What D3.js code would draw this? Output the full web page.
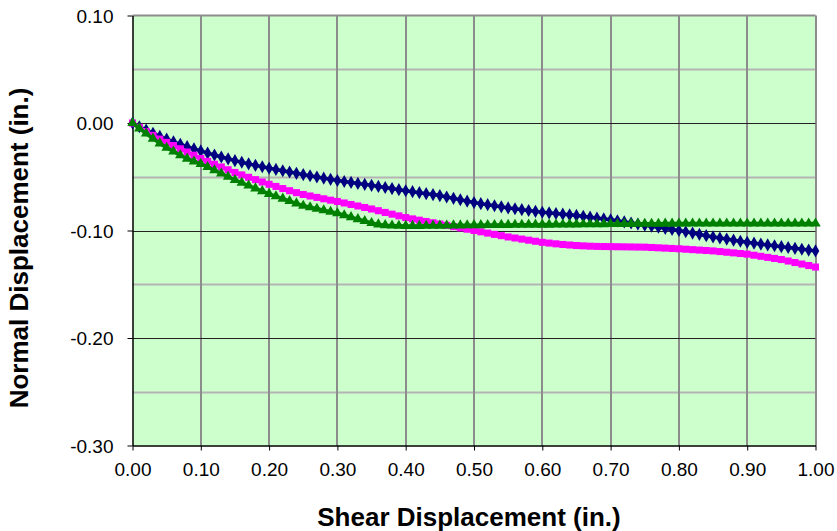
<!DOCTYPE html>
<html>
<head>
<meta charset="utf-8">
<script src="https://cdn.jsdelivr.net/npm/d3@7"></script>
<style>
  html, body { margin: 0; padding: 0; background: #ffffff; }
  svg { display: block; font-family: "Liberation Sans", Arial, sans-serif; }
</style>
</head>
<body>
<svg id="chart" width="837" height="531"></svg>
<script>
// ---- data ----
const shearX = d3.range(0, 101).map(i => +(i / 100).toFixed(2));

const series1 = [ // navy diamonds
  0, -0.0035, -0.0065, -0.0095, -0.0125, -0.015, -0.0175, -0.0198, -0.022, -0.024,
  -0.026, -0.028, -0.0298, -0.0316, -0.0333, -0.035, -0.0365, -0.038, -0.0394, -0.0407,
  -0.042, -0.0432, -0.0444, -0.0456, -0.0468, -0.048, -0.0491, -0.0502, -0.0513, -0.0524,
  -0.0535, -0.0544, -0.0553, -0.0562, -0.0571, -0.058, -0.059, -0.060, -0.061, -0.062,
  -0.063, -0.0639, -0.0648, -0.0657, -0.0666, -0.0675, -0.0688, -0.0701, -0.0714, -0.0727,
  -0.074, -0.075, -0.076, -0.077, -0.078, -0.079, -0.0798, -0.0806, -0.0814, -0.0822,
  -0.083, -0.0836, -0.0842, -0.0848, -0.0854, -0.086, -0.0868, -0.0876, -0.0884, -0.0892,
  -0.090, -0.091, -0.092, -0.093, -0.094, -0.095, -0.096, -0.097, -0.098, -0.099,
  -0.100, -0.1012, -0.1024, -0.1036, -0.1048, -0.106, -0.107, -0.108, -0.109, -0.110,
  -0.111, -0.1118, -0.1126, -0.1134, -0.1142, -0.115, -0.1158, -0.1166, -0.1174, -0.1182,
  -0.119
];

const series2 = [ // magenta squares
  0, -0.004, -0.008, -0.0115, -0.015, -0.018, -0.021, -0.024, -0.027, -0.030,
  -0.033, -0.0357, -0.0384, -0.0409, -0.0435, -0.046, -0.0483, -0.0505, -0.0527, -0.0549,
  -0.057, -0.059, -0.061, -0.063, -0.0648, -0.0665, -0.0679, -0.0692, -0.0705, -0.0718,
  -0.073, -0.0744, -0.0758, -0.0772, -0.0786, -0.080, -0.0816, -0.0832, -0.0848, -0.0864,
  -0.088, -0.0892, -0.0904, -0.0916, -0.0928, -0.094, -0.0952, -0.0964, -0.0976, -0.0988,
  -0.100, -0.1012, -0.1024, -0.1036, -0.1048, -0.106, -0.107, -0.108, -0.109, -0.110,
  -0.111, -0.1117, -0.1124, -0.113, -0.1135, -0.114, -0.1143, -0.1146, -0.1148, -0.1149,
  -0.115, -0.1151, -0.1152, -0.1153, -0.1154, -0.1155, -0.1158, -0.1161, -0.1164, -0.1167,
  -0.117, -0.1174, -0.1178, -0.1182, -0.1186, -0.119, -0.1196, -0.1202, -0.1208, -0.1214,
  -0.122, -0.123, -0.124, -0.125, -0.126, -0.127, -0.1284, -0.1298, -0.1312, -0.1326,
  -0.134
];

const series3 = [ // green triangles
  0, -0.005, -0.0098, -0.0145, -0.019, -0.023, -0.0265, -0.030, -0.0332, -0.0358,
  -0.038, -0.041, -0.044, -0.047, -0.050, -0.053, -0.0556, -0.0582, -0.0608, -0.0634,
  -0.066, -0.0682, -0.0704, -0.0726, -0.0748, -0.077, -0.0784, -0.0798, -0.0812, -0.0826,
  -0.084, -0.0858, -0.0876, -0.0894, -0.0912, -0.093, -0.0943, -0.095, -0.0954, -0.0956,
  -0.0957, -0.0957, -0.0957, -0.0956, -0.0955, -0.0955, -0.0954, -0.0953, -0.0952, -0.0951,
  -0.095, -0.095, -0.0949, -0.0949, -0.0948, -0.0948, -0.0947, -0.0947, -0.0946, -0.0946,
  -0.0945, -0.0945, -0.0944, -0.0944, -0.0943, -0.0943, -0.0942, -0.0942, -0.0941, -0.0941,
  -0.094, -0.094, -0.0939, -0.0939, -0.0938, -0.0938, -0.0937, -0.0937, -0.0936, -0.0936,
  -0.0935, -0.0935, -0.0935, -0.0935, -0.0935, -0.0935, -0.0935, -0.0935, -0.0935, -0.0935,
  -0.0935, -0.0935, -0.0935, -0.0935, -0.0935, -0.0935, -0.0935, -0.0935, -0.0935, -0.0935,
  -0.0935
];

const xTicks = [0, 0.1, 0.2, 0.3, 0.4, 0.5, 0.6, 0.7, 0.8, 0.9, 1.0];
const yTicks = [0.10, 0.00, -0.10, -0.20, -0.30];
const yMinorTicks = [0.05, -0.05, -0.15, -0.25];
const xTitle = "Shear Displacement (in.)";
const yTitle = "Normal Displacement (in.)";

// ---- layout ----
const svg = d3.select("#chart");
const plot = { left: 132.5, right: 815.5, top: 15.5, bottom: 445.5 };

const x = d3.scaleLinear().domain([0, 1]).range([plot.left, plot.right]);
const y = d3.scaleLinear().domain([-0.30, 0.10]).range([plot.bottom, plot.top]);

// background
svg.append("rect")
  .attr("x", plot.left).attr("y", plot.top)
  .attr("width", plot.right - plot.left).attr("height", plot.bottom - plot.top)
  .attr("fill", "#ccffcc");

// minor horizontal gridlines
svg.append("g").selectAll("line").data(yMinorTicks).join("line")
  .attr("x1", plot.left).attr("x2", plot.right)
  .attr("y1", d => Math.round(y(d)) + 0.5).attr("y2", d => Math.round(y(d)) + 0.5)
  .attr("stroke", "#b4b4b4").attr("stroke-width", 2);

// vertical gridlines
svg.append("g").selectAll("line").data(xTicks.slice(1)).join("line")
  .attr("x1", d => Math.round(x(d))).attr("x2", d => Math.round(x(d)))
  .attr("y1", plot.top).attr("y2", plot.bottom)
  .attr("stroke", "#8c8c8c").attr("stroke-width", 2);

// major horizontal gridlines
svg.append("g").selectAll("line").data(yTicks.slice(1, 4)).join("line")
  .attr("x1", plot.left).attr("x2", plot.right)
  .attr("y1", d => Math.round(y(d)) + 0.5).attr("y2", d => Math.round(y(d)) + 0.5)
  .attr("stroke", "#222").attr("stroke-width", 1);

// top border gray
svg.append("line")
  .attr("x1", plot.left).attr("x2", plot.right)
  .attr("y1", plot.top).attr("y2", plot.top)
  .attr("stroke", "#8c8c8c").attr("stroke-width", 2);

// axes
const xAxis = d3.axisBottom(x).tickValues(xTicks).tickSize(5).tickSizeOuter(0)
  .tickFormat(d3.format(".2f"));
const yAxis = d3.axisLeft(y).tickValues(yTicks).tickSize(5).tickSizeOuter(0)
  .tickFormat(d => d3.format(".2f")(d).replace("−", "-"));

const gx = svg.append("g").attr("transform", `translate(0,${plot.bottom})`).call(xAxis);
const gy = svg.append("g").attr("transform", `translate(${plot.left},0)`).call(yAxis);

[gx, gy].forEach(g => {
  g.attr("font-size", null).attr("font-family", null);
  g.select(".domain").attr("stroke", "#000").attr("stroke-width", 1.5);
  g.selectAll(".tick line").attr("stroke", "#000");
  g.selectAll(".tick text")
    .attr("fill", "#000")
    .style("font-family", "'Liberation Sans', Arial, sans-serif")
    .style("font-size", "19px");
});
gx.selectAll(".tick text").attr("dy", null).attr("y", 30);
gy.selectAll(".tick text").attr("x", -19).attr("dy", "0.35em");

// series
const seriesDefs = [
  { values: series1, color: "#000080", symbol: d3.symbolDiamond, size: 50 },
  { values: series2, color: "#ff00ff", symbol: d3.symbolSquare, size: 50 },
  { values: series3, color: "#008000", symbol: d3.symbolTriangle, size: 48 }
];

const line = d3.line().x(d => x(d[0])).y(d => y(d[1]));

const plotG = svg.append("g");
seriesDefs.forEach(s => {
  const pts = shearX.map((xv, i) => [xv, s.values[i]]);
  plotG.append("path")
    .attr("d", line(pts))
    .attr("fill", "none")
    .attr("stroke", s.color)
    .attr("stroke-width", 3.5);
  plotG.append("g").selectAll("path").data(pts).join("path")
    .attr("d", d3.symbol().type(s.symbol).size(s.size))
    .attr("transform", d => `translate(${x(d[0])},${y(d[1])})`)
    .attr("fill", s.color);
});

// titles
svg.append("text")
  .attr("x", 469)
  .attr("y", 526)
  .attr("text-anchor", "middle")
  .style("font-family", "'Liberation Sans', Arial, sans-serif")
  .style("font-size", "26px").style("font-weight", "bold")
  .text(xTitle);

svg.append("text")
  .attr("transform", `translate(28,248) rotate(-90)`)
  .attr("text-anchor", "middle")
  .style("font-family", "'Liberation Sans', Arial, sans-serif")
  .style("font-size", "26px").style("font-weight", "bold")
  .text(yTitle);
</script>
</body>
</html>
